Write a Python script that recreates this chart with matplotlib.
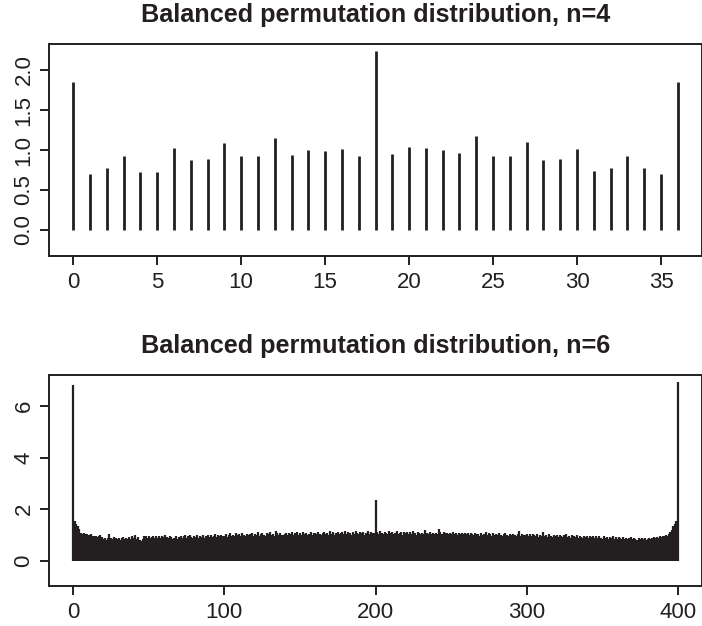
import matplotlib
matplotlib.use("Agg")
import matplotlib.pyplot as plt

# ---- data: top panel (n=4), x = 0..36
x_n4 = list(range(37))
y_n4 = [1.85, 0.70, 0.78, 0.93, 0.73, 0.73, 1.02, 0.88, 0.89, 1.09,
        0.93, 0.93, 1.15, 0.94, 1.00, 0.99, 1.01, 0.93, 2.24, 0.95,
        1.04, 1.03, 1.00, 0.96, 1.18, 0.92, 0.92, 1.10, 0.87, 0.89,
        1.01, 0.74, 0.77, 0.93, 0.78, 0.70, 1.85]

# ---- data: bottom panel (n=6), x = 0..400
x_n6 = list(range(401))
y_n6 = [
    6.81, 1.55, 1.42, 1.35, 1.22, 1.08, 1.05, 1.06, 1.02, 1.04, 1.01, 0.99, 1.03, 0.97, 0.95, 0.96, 0.92, 0.94, 0.98, 0.91,
    0.85, 0.89, 0.82, 0.88, 1.02, 0.90, 0.84, 0.91, 0.87, 0.83, 0.88, 0.82, 0.89, 0.91, 0.84, 0.90, 0.83, 0.92, 0.86, 0.94,
    0.87, 0.98, 0.84, 0.93, 0.82, 0.78, 0.85, 0.97, 0.94, 0.88, 0.96, 0.89, 0.93, 0.95, 0.87, 0.97, 0.90, 0.94, 0.88, 0.96,
    0.91, 0.99, 0.93, 0.88, 0.97, 0.92, 0.86, 0.90, 0.96, 0.85, 0.93, 0.95, 0.87, 0.94, 0.98, 0.89, 0.95, 1.00, 0.91, 0.88,
    0.96, 0.91, 0.99, 0.89, 0.97, 0.93, 1.01, 0.90, 0.96, 0.98, 0.92, 1.00, 0.93, 0.97, 1.02, 0.91, 0.98, 0.94, 1.01, 0.95,
    0.97, 1.03, 0.93, 1.00, 1.06, 0.95, 1.01, 0.94, 1.07, 0.99, 1.03, 0.96, 1.08, 1.00, 0.94, 1.04, 0.98, 1.02, 1.07, 0.96,
    1.03, 0.99, 1.13, 0.95, 1.04, 1.08, 1.00, 0.97, 1.07, 1.02, 1.10, 0.98, 1.04, 0.96, 1.14, 1.06, 0.99, 1.07, 1.01, 0.98,
    1.05, 1.09, 1.00, 1.08, 1.02, 1.11, 0.99, 1.06, 1.10, 1.01, 1.07, 1.00, 1.12, 1.03, 1.08, 1.01, 1.05, 1.11, 1.00, 1.07,
    1.09, 1.02, 1.13, 1.05, 1.00, 1.08, 1.12, 1.03, 1.09, 1.01, 1.14, 1.05, 1.10, 1.00, 1.07, 1.12, 1.03, 1.09, 1.13, 1.04,
    1.17, 1.03, 1.13, 1.06, 1.01, 1.11, 1.05, 1.15, 1.07, 1.02, 1.12, 1.06, 1.10, 1.01, 1.08, 1.14, 1.04, 1.11, 1.06, 1.09,
    2.35, 1.13, 1.05, 1.14, 1.07, 1.02, 1.12, 1.09, 1.03, 1.15, 1.06, 1.11, 1.02, 1.09, 1.14, 1.04, 1.08, 1.12, 1.01, 1.10,
    1.06, 1.12, 1.03, 1.10, 1.05, 1.14, 1.08, 1.01, 1.11, 1.06, 1.03, 1.09, 1.05, 1.20, 1.07, 1.02, 1.10, 1.04, 1.08, 1.03,
    1.09, 1.05, 1.23, 1.12, 1.04, 1.10, 1.06, 1.09, 1.02, 1.08, 1.05, 1.10, 1.03, 1.07, 1.01, 1.09, 1.04, 1.08, 1.02, 1.06,
    1.02, 1.07, 0.99, 1.09, 1.03, 0.98, 1.08, 1.02, 1.05, 0.97, 1.07, 1.01, 1.04, 1.10, 0.99, 1.06, 1.02, 0.96, 1.07, 1.01,
    1.05, 0.98, 1.06, 1.01, 0.96, 1.04, 1.08, 1.00, 0.97, 1.05, 0.99, 1.03, 1.01, 0.95, 1.04, 1.17, 0.97, 1.05, 1.00, 0.98,
    1.03, 0.96, 1.02, 0.94, 1.05, 0.98, 0.95, 1.03, 0.93, 1.01, 0.97, 1.10, 0.94, 0.99, 0.92, 1.02, 0.96, 0.93, 1.01, 0.95,
    0.99, 0.92, 1.00, 0.95, 0.91, 0.98, 1.02, 0.92, 0.97, 0.90, 0.99, 0.94, 0.91, 0.98, 0.89, 0.97, 0.93, 0.90, 0.96, 0.92,
    0.97, 0.89, 0.95, 0.91, 0.96, 0.88, 0.94, 0.87, 0.95, 0.90, 0.86, 0.94, 0.89, 0.93, 0.85, 0.92, 0.88, 0.94, 0.86, 0.91,
    0.86, 0.92, 0.87, 0.84, 0.91, 0.86, 0.90, 0.83, 0.89, 0.91, 0.84, 0.90, 0.86, 0.82, 0.89, 0.85, 0.90, 0.83, 0.88, 0.82,
    0.86, 0.88, 0.84, 0.87, 0.91, 0.88, 0.93, 0.90, 0.95, 0.92, 0.96, 0.94, 0.99, 0.95, 1.02, 1.10, 1.20, 1.33, 1.42, 1.55,
    6.93,
]

top_title = "Balanced permutation distribution, n=4"
bottom_title = "Balanced permutation distribution, n=6"
top_xticks = [0, 5, 10, 15, 20, 25, 30, 35]
top_yticks = [0.0, 0.5, 1.0, 1.5, 2.0]
bottom_xticks = [0, 100, 200, 300, 400]
bottom_yticks = [0, 2, 4, 6]

INK = "#231f20"
plt.rcParams["font.family"] = ["Liberation Sans", "DejaVu Sans"]

W, H = 702, 626
fig = plt.figure(figsize=(W / 100, H / 100), dpi=100)

def ax_rect(left, right, top, bottom):
    return [left / W, 1 - bottom / H, (right - left) / W, (bottom - top) / H]

ax1 = fig.add_axes(ax_rect(49, 702, 44, 256))
ax2 = fig.add_axes(ax_rect(49, 702, 375, 586))

def style(ax, title):
    for s in ax.spines.values():
        s.set_linewidth(1.4)
        s.set_color(INK)
    ax.tick_params(axis="both", direction="out", length=6.5, width=1.4,
                   color=INK, labelcolor=INK, labelsize=16)
    ax.tick_params(axis="x", pad=5)
    ax.tick_params(axis="y", pad=4)
    for lab in ax.get_yticklabels():
        lab.set_rotation(90)
        lab.set_va("center")
    ax.set_title(title, fontsize=18.2, fontweight="bold", color=INK, pad=16)

ax1.vlines(x_n4, 0, y_n4, colors=INK, linewidth=2.0)
ax1.set_xlim(-1.44, 37.44)
ax1.set_ylim(-0.325, 2.325)
ax1.set_xticks(top_xticks)
ax1.set_yticks(top_yticks)
ax1.set_yticklabels([f"{v:.1f}" for v in top_yticks])
style(ax1, top_title)

ax2.vlines(x_n6, 0, y_n6, colors=INK, linewidth=1.6)
ax2.set_xlim(-16, 416)
ax2.set_ylim(-0.98, 7.2)
ax2.set_xticks(bottom_xticks)
ax2.set_yticks(bottom_yticks)
style(ax2, bottom_title)

fig.savefig("out.png", dpi=100)
